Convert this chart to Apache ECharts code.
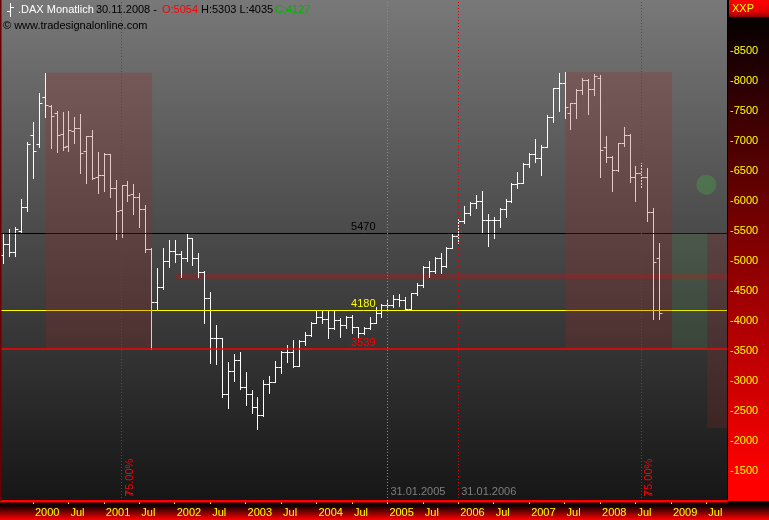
<!DOCTYPE html>
<html><head><meta charset="utf-8">
<script src="https://cdn.jsdelivr.net/npm/echarts@6/dist/echarts.min.js"></script>
<style>html,body{margin:0;padding:0;background:#000;}#c{width:769px;height:520px;}</style>
</head><body><div id="c"></div>
<script>
// ---- categories (monthly) ----
const categories = [
'1999-08','1999-09','1999-10','1999-11','1999-12',
'2000-01','2000-02','2000-03','2000-04','2000-05','2000-06','2000-07','2000-08','2000-09','2000-10','2000-11','2000-12',
'2001-01','2001-02','2001-03','2001-04','2001-05','2001-06','2001-07','2001-08','2001-09','2001-10','2001-11','2001-12',
'2002-01','2002-02','2002-03','2002-04','2002-05','2002-06','2002-07','2002-08','2002-09','2002-10','2002-11','2002-12',
'2003-01','2003-02','2003-03','2003-04','2003-05','2003-06','2003-07','2003-08','2003-09','2003-10','2003-11','2003-12',
'2004-01','2004-02','2004-03','2004-04','2004-05','2004-06','2004-07','2004-08','2004-09','2004-10','2004-11','2004-12',
'2005-01','2005-02','2005-03','2005-04','2005-05','2005-06','2005-07','2005-08','2005-09','2005-10','2005-11','2005-12',
'2006-01','2006-02','2006-03','2006-04','2006-05','2006-06','2006-07','2006-08','2006-09','2006-10','2006-11','2006-12',
'2007-01','2007-02','2007-03','2007-04','2007-05','2007-06','2007-07','2007-08','2007-09','2007-10','2007-11','2007-12',
'2008-01','2008-02','2008-03','2008-04','2008-05','2008-06','2008-07','2008-08','2008-09','2008-10','2008-11','2008-12',
'2009-01','2009-02','2009-03','2009-04','2009-05','2009-06','2009-07','2009-08','2009-09','2009-10'
];
// ---- DAX monthly OHLC, Aug 1999 .. Nov 2008 ----
const openV = [5100,5283,5156,5506,5900, 7094,6944,7728,7583,7461,7111,6917,7172,7211,6839,7078,6394,
 6433,6783,6211,5850,6267,6117,6061,5867,5200,4311,4561,4994,
 5161,5117,5044,5378,5044,4822,4378,3711,3711,2783,3172,3350,
 2905,2783,2561,2433,2950,2989,3239,3489,3489,3255,3667,3767,
 3972,4061,4028,3878,4017,3933,4072,3894,3794,3878,3972,4128,
 4267,4260,4361,4350,4200,4460,4600,4894,4839,5056,4917,5222,
 5417,5672,5794,5972,6000,5683,5683,5683,5867,6006,6283,6306,
 6617,6778,6711,6906,7406,7878,7972,7461,7639,7850,8017,7861,
 8044,6894,6739,6517,6972,7100,6406,6461,6406,5822,5054];
const highV = [5461,5533,5572,6033,6983, 7317,7806,8136,7600,7500,7483,7500,7406,7450,7083,7183,6822,
 6794,6790,6350,6267,6333,6278,6128,5933,5211,4878,5211,5350,
 5350,5172,5444,5390,5128,4840,4489,3933,3720,3322,3450,3489,
 3156,2850,2739,3017,3089,3333,3500,3600,3683,3683,3822,3989,
 4172,4172,4172,4172,4044,4083,4100,3906,3894,4072,4228,4278,
 4350,4433,4450,4406,4472,4628,4917,5000,5072,5139,5239,5450,
 5694,5917,5989,6100,6167,5783,5739,5878,6028,6306,6489,6639,
 6794,7028,6933,7433,7890,8139,8156,7639,7870,8044,8040,8117,
 8100,7083,6750,6972,7239,7110,6583,6628,6544,5878,5303];
const lowV = [4961,5089,5089,5489,5839, 6389,6906,7406,6889,6811,6850,6839,6961,6472,6306,6361,6128,
 6172,6072,5361,5406,6000,5778,5561,5156,3539,4194,4540,4894,
 4989,4739,5000,4933,4739,3961,3294,3283,2739,2544,3006,2861,
 2600,2472,2203,2420,2794,2980,3139,3322,3239,3250,3600,3750,
 3961,3972,3711,3861,3728,3878,3794,3711,3780,3861,3960,4072,
 4160,4239,4250,4180,4190,4440,4572,4728,4806,4794,4906,5210,
 5306,5628,5767,5878,5461,5250,5378,5572,5739,5989,6211,6294,
 6561,6656,6433,6894,7322,7506,7378,7194,7378,7778,7444,7767,
 6394,6656,6172,6500,6917,6322,6006,6211,5672,4028,4035];
const closeV = [5283,5144,5533,5900,6950, 6839,7628,7600,7411,7094,6894,7183,7211,6794,7078,6378,6433,
 6783,6211,5833,6261,6100,6061,5867,5200,4311,4561,4994,5161,
 5117,5044,5378,5044,4822,4378,3711,3711,2783,3172,3350,2905,
 2783,2561,2433,2950,2989,3239,3489,3489,3255,3667,3767,3972,
 4061,4028,3878,4017,3933,4072,3894,3794,3878,3972,4128,4267,
 4260,4361,4350,4200,4460,4600,4894,4839,5056,4917,5222,5417,
 5672,5794,5972,6000,5683,5683,5683,5867,6006,6283,6306,6617,
 6778,6711,6906,7406,7878,7972,7572,7639,7850,8017,7861,8083,
 6850,6739,6517,6961,7100,6406,6472,6406,5822,4989,4127];

// ---- levels & zones & markers ----
const levelValues = [5470, 4180, 3539];
const levelColors = ['#000000', '#ffff00', '#ff0000'];
const levelLabelAt = 63;           // category index where level labels end
// zone: [startIdx, endIdx, topValue, bottomValue, styleIdx]
const zonesBelow = [[29, 122, 4795, 4700, 2]];
const zonesAbove = [[7, 25, 8136, 3539, 0], [95, 113, 8150, 3539, 0], [113, 119, 5470, 3539, 1], [119, 122, 5470, 2217, 3]];
const zoneFills = ['rgba(150,40,40,0.25)', 'rgba(80,150,80,0.18)', 'rgba(160,30,30,0.42)', 'rgba(150,40,40,0.22)'];
const pctLines = [20, 108];        // red dotted "75.00%"
const dateLines = [65, 77];        // dotted date markers
const dateLineLabels = ['31.01.2005', '31.01.2006'];
const dateLineColors = ['#8a8a8a', '#e00000'];
const signalPoint = [119, 6270];

const FONT = 'Liberation Sans, Arial, sans-serif';
const ohlcData = categories.slice(0, openV.length).map((c, i) => [i, openV[i], highV[i], lowV[i], closeV[i]]);
const lastIdx = categories.length - 1;

function renderOHLC(params, api) {
  const i = api.value(0);
  const o = api.coord([i, api.value(1)]);
  const h = api.coord([i, api.value(2)]);
  const l = api.coord([i, api.value(3)]);
  const c = api.coord([i, api.value(4)]);
  const x = Math.round(o[0]) + 0.5;
  const yo = Math.round(o[1]) + 0.5, yc = Math.round(c[1]) + 0.5;
  const st = { stroke: '#ffffff', lineWidth: 1 };
  return { type: 'group', children: [
    { type: 'line', shape: { x1: x, y1: Math.round(h[1]), x2: x, y2: Math.round(l[1]) + 1 }, style: st },
    { type: 'line', shape: { x1: x - 3, y1: yo, x2: x, y2: yo }, style: st },
    { type: 'line', shape: { x1: x, y1: yc, x2: x + 3, y2: yc }, style: st }
  ]};
}
function renderZone(params, api) {
  const a = api.coord([api.value(0), api.value(2)]);
  const b = api.coord([api.value(1), api.value(3)]);
  const bw = api.size([1, 0])[0];
  let x0 = a[0] + 1, x1 = b[0] + 1;
  if (api.value(1) >= lastIdx) x1 = b[0] + bw / 2;
  return { type: 'rect', shape: { x: x0, y: a[1], width: x1 - x0, height: b[1] - a[1] },
           style: { fill: zoneFills[api.value(4)] } };
}
const tickFn = (idx, val) => { const m = val.slice(5); return m === '01' || m === '07'; };

const chart = echarts.init(document.getElementById('c'), null, { renderer: 'canvas' });
const option = {
  animation: false,
  backgroundColor: '#000',
  grid: { left: 0.5, right: 42, top: 0, bottom: 19, show: true, borderWidth: 0,
    backgroundColor: { type: 'linear', x: 0, y: 0, x2: 0, y2: 1,
      colorStops: [{ offset: 0, color: '#787878' }, { offset: 1, color: '#161616' }] } },
  xAxis: { type: 'category', data: categories, boundaryGap: true,
    axisLine: { show: true, lineStyle: { color: '#ff0000', width: 2 } },
    axisTick: { show: true, alignWithLabel: true, interval: tickFn, length: 3, lineStyle: { color: '#ffff00' } },
    axisLabel: { interval: tickFn, color: '#ffff00', fontSize: 11, fontFamily: FONT, align: 'left', margin: 6,
      padding: [0, 0, 0, 2],
      formatter: v => v.slice(5) === '01' ? v.slice(0, 4) : 'Jul' },
    splitLine: { show: false } },
  yAxis: { type: 'value', position: 'right', min: 1000, max: 9350, interval: 500,
    splitLine: { show: false },
    axisLine: { show: true, lineStyle: { color: '#000000', width: 1 } },
    axisTick: { show: false },
    axisLabel: { color: '#ffff00', fontSize: 11, fontFamily: FONT, margin: 3,
      formatter: v => (v < 1500 || v > 8500) ? '' : '-' + v } },
  series: [
    { type: 'custom', name: 'bandBelow', z: 1, renderItem: renderZone, data: zonesBelow, silent: true,
      encode: { x: [0, 1], y: [2, 3] } },
    { type: 'custom', name: 'DAX', z: 3, renderItem: renderOHLC, data: ohlcData,
      encode: { x: 0, y: [1, 2, 3, 4] } },
    { type: 'custom', name: 'zones', z: 5, renderItem: renderZone, data: zonesAbove, silent: true,
      encode: { x: [0, 1], y: [2, 3] } },
    { type: 'line', name: 'levels', z: 7, data: [], symbol: 'none', silent: true,
      markLine: { silent: true, symbol: 'none', animation: false, label: { show: false },
        data: levelValues.map((v, k) => ({ yAxis: v, lineStyle: { color: levelColors[k], width: k === 2 ? 1.5 : 1, type: 'solid' } }))
          .concat(pctLines.map(i => ({ xAxis: categories[i], lineStyle: { color: '#ff0000', width: 1, type: [1, 2] } })))
          .concat(dateLines.map((i, k) => ({ xAxis: categories[i], lineStyle: { color: dateLineColors[k], width: 1, type: [1, 2] } }))) } },
    { type: 'scatter', name: 'signal', z: 8, symbol: 'circle', symbolSize: 20, silent: true,
      itemStyle: { color: '#4d7a4d' }, data: [[categories[signalPoint[0]], signalPoint[1]]] }
  ]
};
chart.setOption(option);

const P = (i, v) => chart.convertToPixel({ xAxisIndex: 0, yAxisIndex: 0 }, [categories[i], v]);
const bottomY = P(0, 1000)[1];
const plotRight = chart.convertToPixel({ yAxisIndex: 0 }, 1000) !== null ? 727 : 727;

function txt(x, y, s, color, extra) {
  return Object.assign({ type: 'text', x: x, y: y, silent: true, z: 50,
    style: Object.assign({ text: s, fill: color, font: '11px ' + FONT, fontSize: 11, fontFamily: FONT,
      textAlign: 'left', textVerticalAlign: 'middle', align: 'left', verticalAlign: 'middle' }, extra && extra.style || {}) },
    extra && extra.el || {});
}

const graphics = [
  // right panel
  { type: 'rect', z: 0, silent: true, shape: { x: 727.5, y: 0, width: 42, height: bottomY },
    style: { fill: { type: 'linear', x: 0, y: 0, x2: 0, y2: 1,
      colorStops: [{ offset: 0, color: '#000000' }, { offset: 0.05, color: '#0a0000' }, { offset: 0.95, color: '#ff0000' }, { offset: 1, color: '#ff0000' }] } } },
  // XXP box
  { type: 'rect', z: 1, silent: true, shape: { x: 729, y: 0, width: 40, height: 17 },
    style: { fill: { type: 'linear', x: 0, y: 0, x2: 0, y2: 1,
      colorStops: [{ offset: 0, color: '#ff0000' }, { offset: 0.7, color: '#e00000' }, { offset: 1, color: '#900000' }] } } },
  txt(732, 9, 'XXP', '#ffff00'),
  // bottom panel
  { type: 'rect', z: 0, silent: true, shape: { x: 0, y: bottomY + 1, width: 769, height: 520 - bottomY - 1 },
    style: { fill: { type: 'linear', x: 0, y: 0, x2: 0, y2: 1,
      colorStops: [{ offset: 0, color: '#000000' }, { offset: 0.2, color: '#100000' }, { offset: 1, color: '#ff0000' }] } } },
  { type: 'rect', z: 1, silent: true, shape: { x: 0, y: bottomY - 0.5, width: 727.5, height: 2 }, style: { fill: '#ff0000' } },
  // left edge
  { type: 'rect', z: 40, silent: true, shape: { x: 0, y: 0, width: 1.5, height: bottomY }, style: { fill: '#6a0000' } },
  // header icon
  { type: 'line', z: 50, silent: true, shape: { x1: 10.5, y1: 3, x2: 10.5, y2: 17 }, style: { stroke: '#fff', lineWidth: 1 } },
  { type: 'line', z: 50, silent: true, shape: { x1: 7, y1: 11.5, x2: 10.5, y2: 11.5 }, style: { stroke: '#fff', lineWidth: 1 } },
  { type: 'line', z: 50, silent: true, shape: { x1: 10.5, y1: 7.5, x2: 14, y2: 7.5 }, style: { stroke: '#fff', lineWidth: 1 } },
  txt(18, 10, '.DAX Monatlich', '#ffffff'),
  txt(96, 10, '30.11.2008 -', '#000000'),
  txt(162, 10, 'O:5054', '#ff0000'),
  txt(201, 10, 'H:5303 L:4035', '#000000'),
  txt(275, 10, 'C:4127', '#00b400'),
  txt(3, 26, '\u00a9 www.tradesignalonline.com', '#000000')
];
// level labels
levelValues.forEach((v, k) => {
  const p = P(levelLabelAt, v);
  graphics.push(txt(p[0], p[1] - 6, String(v), levelColors[k], { style: { textAlign: 'right', align: 'right' } }));
});
// 75% labels and flags
pctLines.forEach(i => {
  const p = P(i, 1000);
  const x = Math.round(p[0]) + 0.5;
  graphics.push(txt(x + 7, bottomY - 5, '75.00%', '#ff0000', { el: { rotation: Math.PI / 2 } }));
  graphics.push({ type: 'polyline', z: 50, silent: true,
    shape: { points: [[x + 3, bottomY - 5], [x + 3, bottomY - 8], [x + 6, bottomY - 8], [x + 8, bottomY - 6], [x + 11, bottomY - 6]] },
    style: { stroke: '#ff0000', lineWidth: 1, fill: null } });
});
// date labels
dateLines.forEach((i, k) => {
  const p = P(i, 1000);
  graphics.push(txt(p[0] + 3, bottomY - 9, dateLineLabels[k], '#7f7f7f'));
});
chart.setOption({ graphic: { elements: graphics } });
</script>
</body></html>
